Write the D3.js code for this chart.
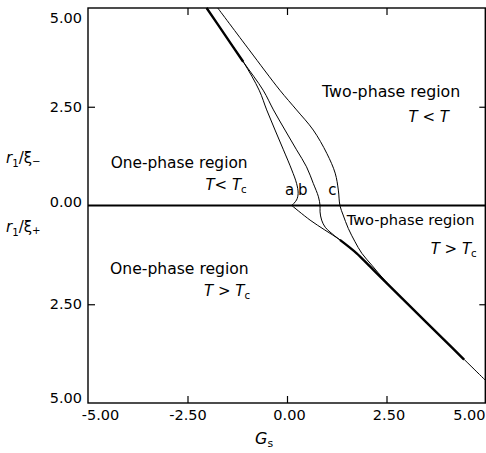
<!DOCTYPE html>
<html><head><meta charset="utf-8">
<script src="https://cdn.jsdelivr.net/npm/d3@7"></script>
<style>body{margin:0;background:#fff}text{font-family:"DejaVu Sans",sans-serif;fill:#000}</style>
</head><body>
<svg id="c" width="486" height="453"></svg>
<script>
// ---- data (Gs, r1/xi; positive = r1/xi-, negative = r1/xi+) ----
const xTicks = [-5, -2.5, 0, 2.5, 5];
const yTicks = [5, 2.5, 0, -2.5, -5];
const curveAUpper = [[-2.02,5.0],[-1.56,4.32],[-1.10,3.64],[-0.70,2.92],[-0.51,2.42],[-0.30,1.91],[-0.09,1.41],[0.12,0.90],[0.24,0.56],[0.28,0.31],[0.24,0.14],[0.12,0]];
const curveALower = [[0.12,0],[0.58,-0.37],[0.95,-0.62],[1.33,-0.87],[1.75,-1.21],[2.09,-1.55],[2.46,-1.92],[3.0,-2.46],[4.0,-3.45],[5.0,-4.44]];
const curveB = [[-2.02,5.0],[-1.56,4.32],[-1.10,3.64],[-0.60,2.92],[-0.34,2.42],[-0.05,1.91],[0.24,1.41],[0.49,0.98],[0.66,0.56],[0.79,0.22],[0.83,0],[0.83,-0.16],[0.87,-0.37],[0.96,-0.55],[1.08,-0.67],[1.20,-0.77],[1.33,-0.87],[1.75,-1.21],[2.09,-1.55]];
const curveC = [[-1.74,5.0],[-0.95,3.94],[-0.18,2.92],[0.24,2.42],[0.66,1.91],[1.00,1.32],[1.21,0.82],[1.29,0.39],[1.33,0],[1.41,-0.24],[1.54,-0.58],[1.71,-0.92],[1.88,-1.21],[2.13,-1.51],[2.46,-1.90],[2.80,-2.26],[3.0,-2.46]];
const envelopeUpper = [[-2.02,5.0],[-1.56,4.32],[-1.10,3.64]];
const envelopeLower = [[1.33,-0.87],[1.75,-1.21],[2.09,-1.55],[2.46,-1.92],[3.0,-2.46],[4.0,-3.45],[4.45,-3.90]];

// ---- layout ----
const svg = d3.select("#c");
const L = 88, R = 486, T = 8, B = 403;
const x = d3.scaleLinear().domain([-5, 5]).range([L, R]);
const y = d3.scaleLinear().domain([5, -5]).range([T, B]);
const line = d3.line().x(d => x(d[0])).y(d => y(d[1])).curve(d3.curveCatmullRom.alpha(0.5));

// frame
svg.append("rect").attr("x", L).attr("y", T).attr("width", 485.3 - L).attr("height", B - T)
  .attr("fill", "none").attr("stroke", "#000").attr("stroke-width", 1.4);

// zero line
svg.append("line").attr("x1", L).attr("x2", R).attr("y1", y(0)).attr("y2", y(0))
  .attr("stroke", "#000").attr("stroke-width", 2);

// axes
const fmtX = d => d.toFixed(2);
const fmtY = d => Math.abs(d).toFixed(2);
const gx = svg.append("g").attr("transform", `translate(0,${B})`)
  .call(d3.axisBottom(x).tickValues(xTicks).tickSize(-7).tickPadding(7).tickFormat(fmtX));
const gy = svg.append("g").attr("transform", `translate(${L},0)`)
  .call(d3.axisLeft(y).tickValues(yTicks).tickSize(-7).tickPadding(6).tickFormat(fmtY));
const gt = svg.append("g").attr("transform", `translate(0,${T})`)
  .call(d3.axisTop(x).tickValues(xTicks.slice(1, -1)).tickSize(-7).tickFormat(""));
const gr = svg.append("g").attr("transform", `translate(485.3,0)`)
  .call(d3.axisRight(y).tickValues([2.5, -2.5]).tickSize(-6).tickFormat(""));
[gx, gy, gt, gr].forEach(g => {
  g.select(".domain").remove();
  g.selectAll("line").attr("stroke", "#000").attr("stroke-width", 1.2);
  g.selectAll("text").attr("font-family", "DejaVu Sans").attr("font-size", 14.5).attr("fill", "#000");
});
gx.selectAll(".tick").filter(d => d === -5 || d === 5).select("line").remove();
gy.selectAll(".tick").filter(d => d === 5 || d === -5 || d === 0).select("line").remove();
gx.selectAll(".tick").filter(d => d === -5).select("text").attr("dx", 12);
gx.selectAll(".tick").filter(d => d === 5).select("text").attr("text-anchor", "end").attr("dx", -1);
gx.selectAll(".tick").filter(d => d === 0 || d === 2.5).select("text").attr("dx", 2);
gy.selectAll(".tick").filter(d => d === 5).select("text").attr("dy", "1.0em");
gy.selectAll(".tick").filter(d => d === -5).select("text").attr("dy", "-0.05em");
gy.selectAll(".tick").filter(d => d === 0).select("text").attr("dy", "0.08em");

// curves
const thin = 1.0;
[curveAUpper, curveALower, curveB, curveC].forEach(c => {
  svg.append("path").attr("d", line(c)).attr("fill", "none").attr("stroke", "#000").attr("stroke-width", thin);
});
[envelopeUpper, envelopeLower].forEach(c => {
  svg.append("path").attr("d", line(c)).attr("fill", "none").attr("stroke", "#000").attr("stroke-width", 2.4);
});

// annotations
function label(px, py, anchor, size, parts) {
  const t = svg.append("text").attr("x", px).attr("y", py).attr("text-anchor", anchor).attr("font-size", size);
  parts.forEach(p => {
    const s = t.append("tspan").text(p.t);
    if (p.i) s.attr("font-style", "italic");
    if (p.sub) s.attr("font-size", size * 0.68).attr("dy", p.dy || 3);
    if (p.up) s.attr("dy", p.up);
  });
  return t;
}
label(110.7, 167.7, "start", 15.4, [{t: "One-phase region"}]);
label(246.7, 190, "end", 15, [{t: "T", i: 1}, {t: "< "}, {t: "T", i: 1}, {t: "c", sub: 1}]);
label(322, 96.7, "start", 15.8, [{t: "Two-phase region"}]);
label(449, 121.7, "end", 15, [{t: "T", i: 1}, {t: " < "}, {t: "T", i: 1}]);
label(346.7, 224.5, "start", 14.6, [{t: "Two-phase region"}]);
label(476.7, 254, "end", 15, [{t: "T", i: 1}, {t: " > "}, {t: "T", i: 1}, {t: "c", sub: 1}]);
label(110, 274, "start", 15.6, [{t: "One-phase region"}]);
label(250, 296, "end", 15, [{t: "T", i: 1}, {t: " > "}, {t: "T", i: 1}, {t: "c", sub: 1}]);
label(285, 195, "start", 15, [{t: "a"}]);
label(298, 195, "start", 15, [{t: "b"}]);
label(328.3, 195, "start", 15, [{t: "c"}]);
label(6, 163, "start", 15, [{t: "r", i: 1}, {t: "1", sub: 1, dy: 4}, {t: "/", up: -4}, {t: "ξ"}, {t: "\u2212", sub: 1, dy: 2}]);
label(6, 232, "start", 15, [{t: "r", i: 1}, {t: "1", sub: 1, dy: 4}, {t: "/", up: -4}, {t: "ξ"}, {t: "+", sub: 1, dy: 2}]);
label(255, 444, "start", 16, [{t: "G", i: 1}, {t: "s", sub: 1, dy: 3}]);
</script>
</body></html>
